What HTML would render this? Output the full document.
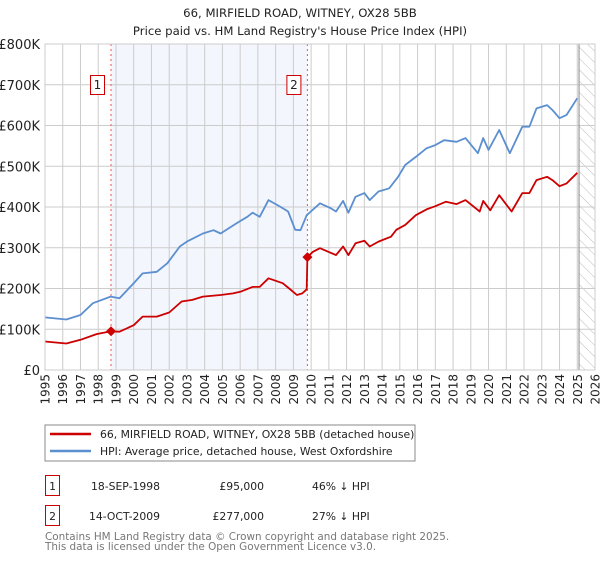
<!DOCTYPE html>
<html><head><meta charset="utf-8"><style>
body{margin:0;background:#fff;font-family:"DejaVu Sans","Liberation Sans",sans-serif;}
svg text{font-family:"DejaVu Sans","Liberation Sans",sans-serif;}
</style></head><body>
<svg id="c" width="600" height="560" xmlns="http://www.w3.org/2000/svg">
<defs><pattern id="hatch" width="8" height="8" patternUnits="userSpaceOnUse" patternTransform="rotate(-45)"><line x1="0" y1="0" x2="0" y2="8" stroke="#bbb" stroke-width="1"/></pattern></defs>
<text x="300" y="17" text-anchor="middle" font-size="11.7" fill="#222">66, MIRFIELD ROAD, WITNEY, OX28 5BB</text>
<text x="300" y="35" text-anchor="middle" font-size="11.7" fill="#222">Price paid vs. HM Land Registry's House Price Index (HPI)</text>
<g id="plot"></g>
<rect x="45" y="425" width="370" height="36" fill="#fff" stroke="#888"/>
<line x1="50" y1="434" x2="91" y2="434" stroke="#cc0000" stroke-width="2.5"/>
<text x="100" y="438" font-size="10.8" fill="#222">66, MIRFIELD ROAD, WITNEY, OX28 5BB (detached house)</text>
<line x1="50" y1="451" x2="91" y2="451" stroke="#5b8fd0" stroke-width="2.5"/>
<text x="100" y="455" font-size="10.8" fill="#222">HPI: Average price, detached house, West Oxfordshire</text>
<g>
<rect x="45.5" y="475.5" width="14" height="20" fill="#fff" stroke="#cc0000"/>
<text x="52.5" y="490" text-anchor="middle" font-size="10.8" fill="#222">1</text>
<text x="91" y="490" font-size="10.8" fill="#222">18-SEP-1998</text>
<text x="264" y="490" text-anchor="end" font-size="10.8" fill="#222">£95,000</text>
<text x="312" y="490" font-size="10.8" fill="#222">46% ↓ HPI</text></g>
<g>
<rect x="45.5" y="505.5" width="14" height="20" fill="#fff" stroke="#cc0000"/>
<text x="52.5" y="520" text-anchor="middle" font-size="10.8" fill="#222">2</text>
<text x="89" y="520" font-size="10.8" fill="#222">14-OCT-2009</text>
<text x="264" y="520" text-anchor="end" font-size="10.8" fill="#222">£277,000</text>
<text x="312" y="520" font-size="10.8" fill="#222">27% ↓ HPI</text></g>
<text x="45" y="540" font-size="10.4" fill="#777">Contains HM Land Registry data © Crown copyright and database right 2025.</text>
<text x="45" y="550" font-size="10.4" fill="#777">This data is licensed under the Open Government Licence v3.0.</text>
</svg>
<script>
const yTicks=[0,100,200,300,400,500,600,700,800];
const yTickLabels=["£0","£100K","£200K","£300K","£400K","£500K","£600K","£700K","£800K"];
const xYears=[1995,1996,1997,1998,1999,2000,2001,2002,2003,2004,2005,2006,2007,2008,2009,2010,2011,2012,2013,2014,2015,2016,2017,2018,2019,2020,2021,2022,2023,2024,2025,2026];
const hpiT=[1995,1996.2,1997,1997.7,1998.7,1999.2,2000,2000.5,2001.3,2001.9,2002.6,2003,2003.9,2004.5,2004.9,2005.8,2006.4,2006.7,2007.1,2007.6,2008.25,2008.7,2009.1,2009.4,2009.75,2010.5,2011.1,2011.4,2011.8,2012.1,2012.5,2013,2013.3,2013.8,2014.4,2014.9,2015.3,2015.9,2016.5,2017,2017.5,2018.2,2018.7,2019.4,2019.7,2020,2020.6,2021.2,2021.9,2022.3,2022.7,2023.3,2023.6,2024,2024.4,2025.0];
const hpiV=[129,124,135,164,180,176,213,237,241,262,303,315,335,343,335,360,376,386,376,417,401,389,344,343,380,409,397,389,415,386,425,434,417,438,446,474,503,523,544,552,564,560,569,532,569,540,589,532,597,597,642,650,638,618,626,667];
const priceT=[1995,1996.2,1997,1997.9,1998.72,1999.2,2000,2000.5,2001.3,2002,2002.7,2003.3,2003.9,2004.9,2005.6,2006,2006.7,2007.1,2007.6,2008.4,2008.9,2009.2,2009.5,2009.75,2009.79,2010.1,2010.5,2011.4,2011.8,2012.1,2012.5,2013,2013.3,2013.8,2014.5,2014.8,2015.3,2015.9,2016.5,2017,2017.6,2018.2,2018.7,2019.5,2019.7,2020.1,2020.6,2021.3,2021.9,2022.3,2022.7,2023.3,2023.6,2024,2024.4,2025.0];
const priceV=[70,65,74,88,95,94,110,131,131,141,168,172,180,184,188,192,204,204,225,213,195,184,188,198,277,290,299,282,303,282,311,317,303,315,327,344,356,380,394,402,413,407,417,389,415,392,429,389,434,434,466,474,466,451,458,484];
const saleT=[1998.72,2009.79];
const saleV=[95,277];
const saleLabels=["1","2"];
const X0=45,X1=595,Y0=370,Y1=44;
const xs=t=>X0+(t-1995)/(2026-1995)*(X1-X0);
const ys=v=>Y0-v/800*(Y0-Y1);
const NS="http://www.w3.org/2000/svg";
const g=document.getElementById('plot');
function mk(tag,attrs,parent){const e=document.createElementNS(NS,tag);for(const k in attrs)e.setAttribute(k,attrs[k]);(parent||g).appendChild(e);return e;}
let e;
e=mk('rect',{x:xs(saleT[0]),y:Y1,width:xs(saleT[1])-xs(saleT[0]),height:Y0-Y1,fill:'#f3f6fd'});


e=mk('rect',{x:xs(2025.1),y:Y1,width:X1-xs(2025.1),height:Y0-Y1,fill:'url(#hatch)'});


xYears.forEach(yr=>{
 e=mk('line',{x1:xs(yr),x2:xs(yr),y1:Y1,y2:Y0,stroke:'#cccccc','stroke-width':1});
 
 
 e=mk('text',{x:0,y:0,'font-size':12,fill:'#222','text-anchor':'end',transform:`translate(${xs(yr)+4.5},374) rotate(-90)`});
 e.textContent=yr;
 
 
});
yTicks.forEach((v,i)=>{
 e=mk('line',{x1:X0,x2:X1,y1:ys(v),y2:ys(v),stroke:'#cccccc','stroke-width':1});
 
 
 e=mk('text',{x:40,y:ys(v)+5,'font-size':13,fill:'#222','text-anchor':'end'});
 e.textContent=yTickLabels[i];
 
 
});
e=mk('line',{x1:xs(2025.1),x2:xs(2025.1),y1:Y1,y2:Y0,stroke:'#888','stroke-width':1});


saleT.forEach((t,i)=>{
 e=mk('line',{x1:xs(t),x2:xs(t),y1:Y1,y2:Y0,stroke:'#ee5555','stroke-width':1,'stroke-dasharray':'2,3'});
 
 
});
const pts=(T,V)=>T.map((t,i)=>xs(t).toFixed(1)+','+ys(V[i]).toFixed(1)).join(' ');
e=mk('polyline',{points:pts(hpiT,hpiV),fill:'none',stroke:'#5b8fd0','stroke-width':1.8,'stroke-linejoin':'round'});


e=mk('polyline',{points:pts(priceT,priceV),fill:'none',stroke:'#cc0000','stroke-width':1.8,'stroke-linejoin':'round'});


saleT.forEach((t,i)=>{
 const cx=xs(t),cy=ys(saleV[i]);
 e=mk('polygon',{points:`${cx},${cy-5} ${cx+5},${cy} ${cx},${cy+5} ${cx-5},${cy}`,fill:'#cc0000'});
 
 
 e=mk('rect',{x:cx-20.5,y:75.5,width:14,height:19,fill:'#fff',stroke:'#cc0000'});
 
 
 e=mk('text',{x:cx-13.5,y:89,'font-size':12,fill:'#222','text-anchor':'middle'});
 e.textContent=saleLabels[i];
 
 
});
e=mk('rect',{x:X0,y:Y1,width:X1-X0,height:Y0-Y1,fill:'none',stroke:'#cccccc'});


</script>
</body></html>
